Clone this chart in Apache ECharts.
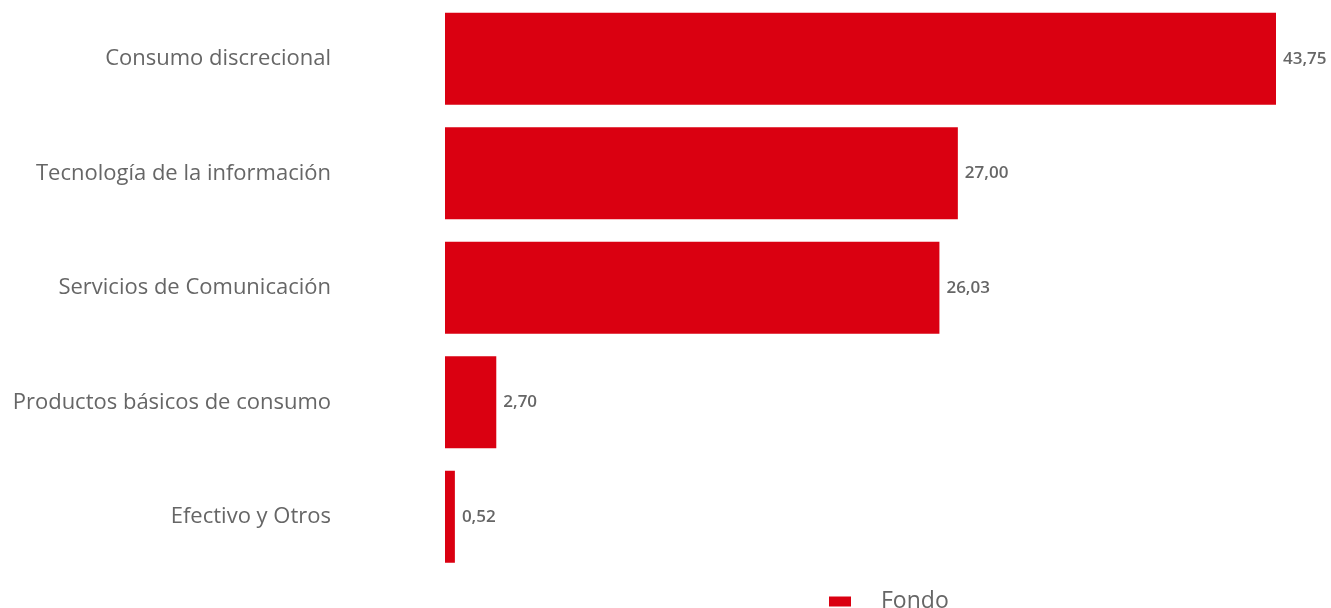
<!DOCTYPE html>
<html>
<head>
<meta charset="utf-8">
<script src="https://cdn.jsdelivr.net/npm/echarts@6/dist/echarts.min.js"></script>
<style>
html,body{margin:0;padding:0;background:#fff;}
#main{width:1331px;height:608px;}
</style>
</head>
<body>
<div id="main"></div>
<script>
const categories = ["Consumo discrecional","Tecnología de la información","Servicios de Comunicación","Productos básicos de consumo","Efectivo y Otros"];
const seriesName = "Fondo";
const values = [43.75, 27.00, 26.03, 2.70, 0.52];

const FONT = 'Open Sans';
const chart = echarts.init(document.getElementById('main'));
chart.setOption({
  animation: false,
  legend: {
    data: [seriesName],
    left: 824,
    top: 585,
    itemWidth: 22,
    itemHeight: 10,
    icon: 'rect',
    itemGap: 10,
    textStyle: {color: '#666', fontSize: 23, fontWeight: 500, fontFamily: FONT, padding: [0,0,0,25]}
  },
  grid: {left: 445, right: 55, top: 1.5, height: 572.5, containLabel: false},
  xAxis: {
    type: 'value', min: 0, max: 43.75,
    show: false
  },
  yAxis: {
    type: 'category', inverse: true, data: categories,
    axisLine: {show: false}, axisTick: {show: false}, splitLine: {show: false},
    axisLabel: {color: '#666', fontSize: 22, fontWeight: 500, fontFamily: FONT, margin: 114}
  },
  series: [{
    name: seriesName, type: 'bar', data: values, barWidth: 92,
    itemStyle: {color: '#DA0011'},
    label: {
      show: true, position: 'right', distance: 7,
      color: '#666', fontSize: 17, fontWeight: 600, fontFamily: FONT,
      formatter: p => p.value.toFixed(2).replace('.', ',')
    }
  }]
});
</script>
</body>
</html>
